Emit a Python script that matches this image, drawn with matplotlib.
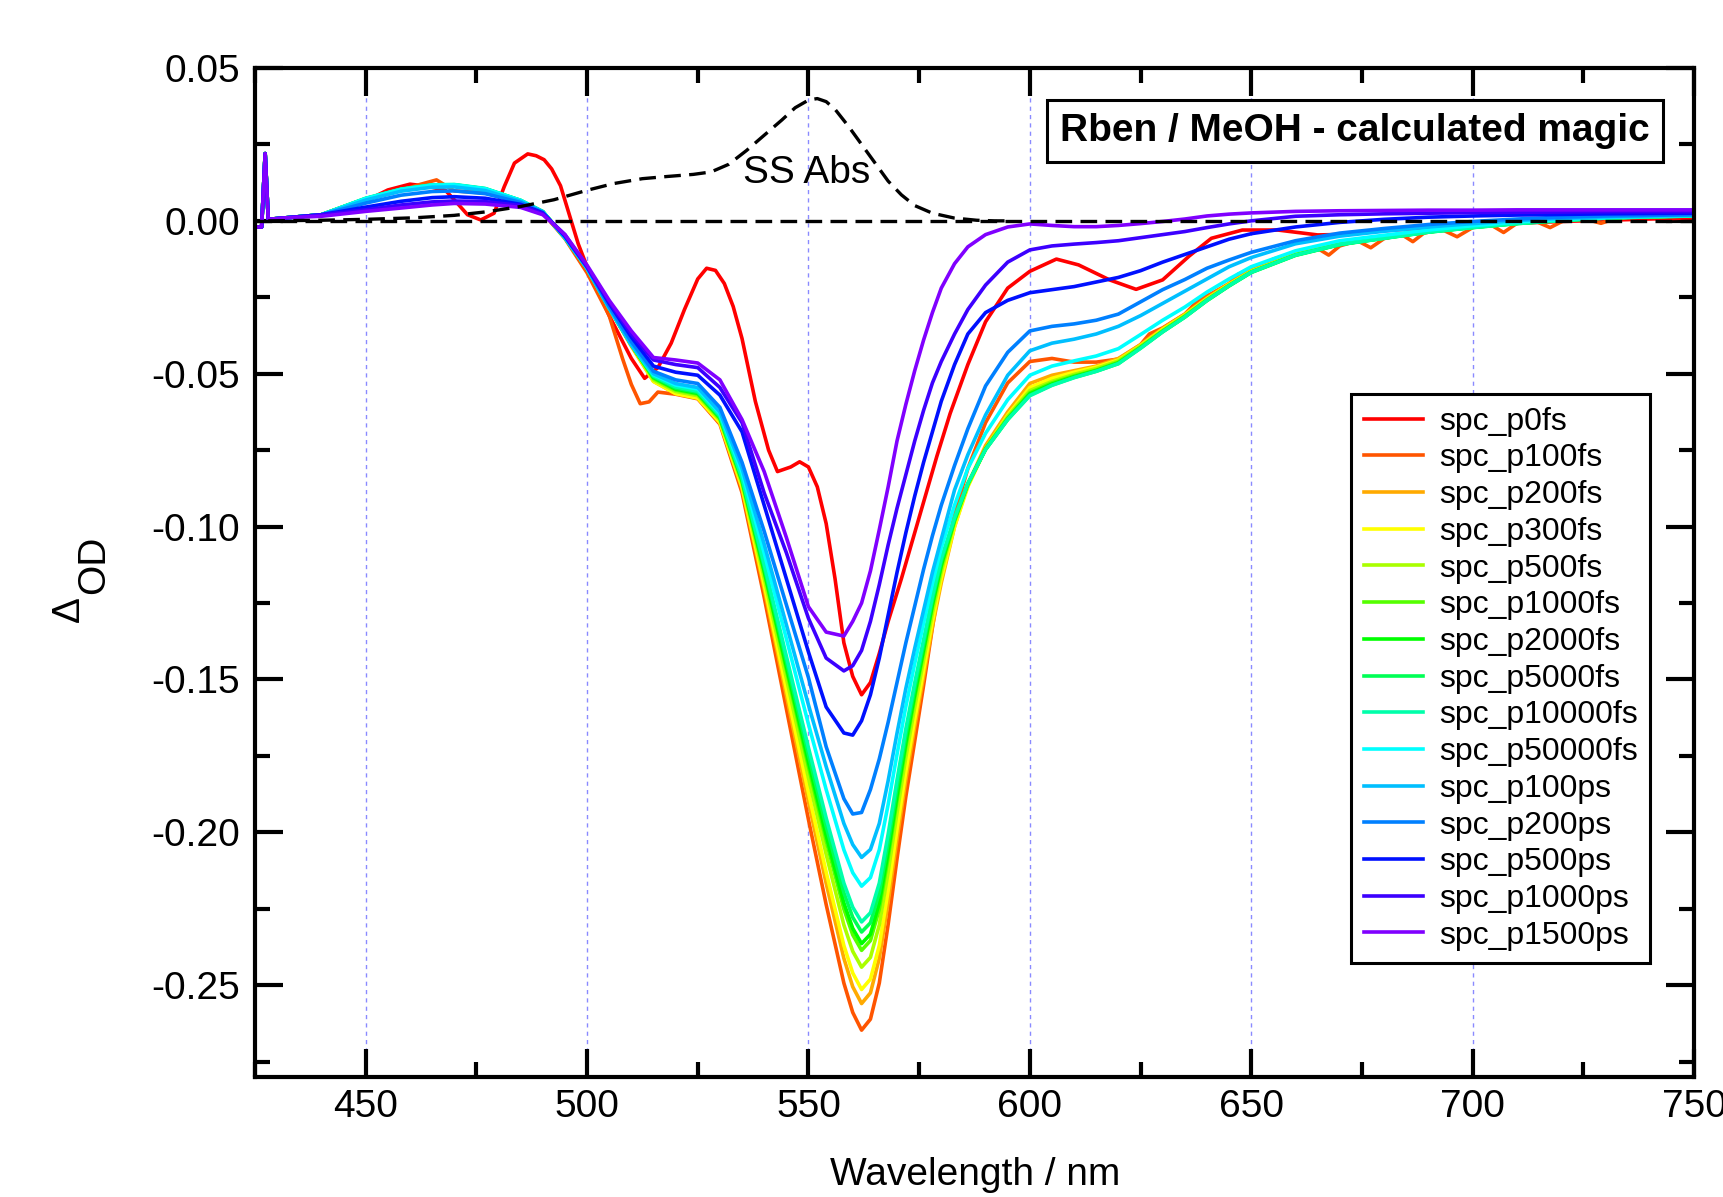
import matplotlib.pyplot as plt
from matplotlib.ticker import MultipleLocator, FormatStrFormatter

plt.rcParams['font.family'] = ['Liberation Sans', 'DejaVu Sans']

# shared wavelength grid (nm)
wl = [425, 426.5, 427.3, 428, 432, 440, 450, 458, 465, 470, 477, 485, 490, 495,
      500, 505, 510, 515, 520, 525, 530, 535, 540, 545, 550, 554, 558, 560, 562,
      564, 566, 568, 570, 572, 574, 576, 578, 580, 583, 586, 590, 595, 600, 605,
      610, 615, 620, 625, 630, 635, 640, 645, 650, 660, 670, 680, 690, 700, 710,
      720, 730, 740, 750]

# p0fs and p100fs have their own grids (extra structure)
wl_p0 = [425, 426.5, 427.3, 428, 432, 440, 450, 455, 460, 464, 468, 470, 473, 476,
         479, 481.3, 483.6, 486.6, 488.5, 490.3, 492, 494, 496, 498, 500, 505, 510,
         513, 516, 519, 522, 525, 527, 529, 531, 533, 535, 538, 541, 543, 546, 548,
         550, 552, 554, 556, 558, 560, 562, 564, 566, 568, 571, 575, 579, 582, 586,
         590, 595, 600, 606, 611, 618, 624, 630, 636, 641, 648, 656, 665, 672, 680,
         690, 700, 720, 750]
p0fs = [-0.002, -0.002, 0.022, 0.0005, 0.001, 0.002, 0.0065, 0.0101, 0.0120, 0.0113,
        0.0100, 0.0069, 0.0020, 0.0003, 0.0025, 0.0112, 0.0189, 0.0219, 0.0213, 0.0200,
        0.0170, 0.0115, 0.0020, -0.0075, -0.0150, -0.0310, -0.0450, -0.0515, -0.0480,
        -0.0400, -0.0290, -0.0190, -0.0155, -0.0162, -0.0205, -0.0280, -0.0385, -0.0590,
        -0.0750, -0.0820, -0.0805, -0.0788, -0.0805, -0.0870, -0.0990, -0.1170, -0.1380,
        -0.1490, -0.1550, -0.1510, -0.1415, -0.1310, -0.1170, -0.0970, -0.0770, -0.0630,
        -0.0470, -0.0330, -0.0220, -0.0165, -0.0125, -0.0144, -0.0193, -0.0224, -0.0193,
        -0.0115, -0.0057, -0.0030, -0.0030, -0.0046, -0.0044, -0.0032, -0.0022, -0.0014,
        -0.0002, 0.0010]

wl_p100 = [425, 426.5, 427.3, 428, 432, 440, 450, 458, 462, 466, 470, 477, 485, 490,
           495, 500, 505, 508, 510, 512, 514, 516, 520, 525, 530, 535, 540, 545, 550,
           554, 558, 560, 562, 564, 566, 568, 570, 572, 574, 576, 578, 580, 583, 586,
           590, 595, 600, 605, 610, 615, 620, 625, 627, 630, 635, 638, 641, 645, 647,
           650, 655, 658, 662, 665, 667.5, 670, 674, 677, 680, 684, 686.5, 689, 693,
           696.5, 700, 704, 707, 710, 714, 717.5, 721, 725, 729, 733, 740, 750]
p100fs = [-0.002, -0.002, 0.022, 0.0005, 0.001, 0.002, 0.0072, 0.0100, 0.0118, 0.0134,
          0.0098, 0.0091, 0.0062, 0.0026, -0.0058, -0.0170, -0.0310, -0.0450, -0.0535,
          -0.0598, -0.0592, -0.0560, -0.0567, -0.0582, -0.0665, -0.0889, -0.1231, -0.1595,
          -0.1958, -0.2236, -0.2493, -0.2589, -0.2647, -0.2611, -0.2493, -0.2301, -0.2087,
          -0.1883, -0.1702, -0.1520, -0.1330, -0.1150, -0.0960, -0.0810, -0.0660, -0.0530,
          -0.0460, -0.0450, -0.0462, -0.0462, -0.0452, -0.0405, -0.0370, -0.0350, -0.0305,
          -0.0260, -0.0238, -0.0205, -0.0175, -0.0162, -0.0125, -0.0112, -0.0095, -0.0090,
          -0.0112, -0.0082, -0.0065, -0.0088, -0.0058, -0.0045, -0.0068, -0.0040, -0.0028,
          -0.0052, -0.0022, -0.0012, -0.0038, -0.0008, 0.0000, -0.0022, 0.0004, 0.0008,
          -0.0008, 0.0011, 0.0014, 0.0016]

p200fs = [-0.002, -0.002, 0.022, 0.0005, 0.001, 0.002,
          0.0072, 0.0101, 0.0115, 0.0116, 0.0103, 0.0065, 0.0029, -0.0055,
          -0.0155, -0.0285, -0.0410, -0.0525, -0.0565, -0.0578, -0.0658,
          -0.0876, -0.1204, -0.1552, -0.1900, -0.2167, -0.2412, -0.2505, -0.2560, -0.2525,
          -0.2412, -0.2228, -0.2023, -0.1829, -0.1655, -0.1491, -0.1327, -0.1184,
          -0.1000, -0.0862, -0.0735, -0.0625, -0.0532, -0.0505, -0.0490, -0.0475, -0.0450,
          -0.0405, -0.0352, -0.0305, -0.0252, -0.0205, -0.0162, -0.0108, -0.0075, -0.0055,
          -0.0035, -0.0020, -0.0007, 0.0003, 0.0010, 0.0014, 0.0017]
p300fs = [-0.002, -0.002, 0.022, 0.0005, 0.001, 0.002,
          0.0072, 0.0102, 0.0116, 0.0117, 0.0104, 0.0066, 0.0030, -0.0055,
          -0.0155, -0.0285, -0.0405, -0.0525, -0.0565, -0.0580, -0.0660,
          -0.0870, -0.1190, -0.1530, -0.1870, -0.2130, -0.2370, -0.2460, -0.2514, -0.2480,
          -0.2370, -0.2190, -0.1990, -0.1800, -0.1630, -0.1470, -0.1310, -0.1170,
          -0.1000, -0.0870, -0.0745, -0.0635, -0.0545, -0.0515, -0.0495, -0.0478, -0.0455,
          -0.0408, -0.0355, -0.0308, -0.0255, -0.0208, -0.0165, -0.0110, -0.0076, -0.0056,
          -0.0036, -0.0021, -0.0008, 0.0002, 0.0010, 0.0014, 0.0017]
p500fs = [-0.002, -0.002, 0.022, 0.0005, 0.001, 0.002,
          0.0072, 0.0102, 0.0116, 0.0117, 0.0104, 0.0066, 0.0030, -0.0055,
          -0.0155, -0.0285, -0.0405, -0.0520, -0.0558, -0.0572, -0.0652,
          -0.0860, -0.1168, -0.1495, -0.1822, -0.2072, -0.2303, -0.2389, -0.2441, -0.2409,
          -0.2303, -0.2130, -0.1937, -0.1754, -0.1591, -0.1437, -0.1283, -0.1148,
          -0.0985, -0.0865, -0.0745, -0.0640, -0.0555, -0.0525, -0.0502, -0.0483, -0.0458,
          -0.0410, -0.0358, -0.0310, -0.0257, -0.0210, -0.0166, -0.0110, -0.0076, -0.0056,
          -0.0036, -0.0021, -0.0008, 0.0002, 0.0010, 0.0014, 0.0017]
p1000fs = [-0.002, -0.002, 0.022, 0.0005, 0.001, 0.002,
           0.0072, 0.0102, 0.0116, 0.0117, 0.0104, 0.0066, 0.0030, -0.0055,
           -0.0155, -0.0285, -0.0405, -0.0515, -0.0553, -0.0567, -0.0647,
           -0.0852, -0.1150, -0.1468, -0.1785, -0.2027, -0.2251, -0.2335, -0.2386, -0.2354,
           -0.2251, -0.2083, -0.1897, -0.1720, -0.1561, -0.1412, -0.1262, -0.1132,
           -0.0980, -0.0860, -0.0745, -0.0645, -0.0562, -0.0530, -0.0507, -0.0488, -0.0462,
           -0.0413, -0.0360, -0.0312, -0.0258, -0.0211, -0.0167, -0.0111, -0.0077, -0.0056,
           -0.0036, -0.0021, -0.0008, 0.0002, 0.0010, 0.0014, 0.0017]
p2000fs = [-0.002, -0.002, 0.022, 0.0005, 0.001, 0.002,
           0.0072, 0.0102, 0.0116, 0.0117, 0.0104, 0.0066, 0.0030, -0.0055,
           -0.0155, -0.0285, -0.0405, -0.0512, -0.0550, -0.0564, -0.0644,
           -0.0849, -0.1144, -0.1457, -0.1770, -0.2010, -0.2231, -0.2314, -0.2364, -0.2333,
           -0.2231, -0.2065, -0.1881, -0.1706, -0.1549, -0.1402, -0.1254, -0.1125,
           -0.0978, -0.0860, -0.0747, -0.0648, -0.0566, -0.0534, -0.0510, -0.0490, -0.0465,
           -0.0415, -0.0362, -0.0314, -0.0260, -0.0212, -0.0168, -0.0112, -0.0077, -0.0056,
           -0.0036, -0.0021, -0.0008, 0.0002, 0.0010, 0.0014, 0.0017]
p5000fs = [-0.002, -0.002, 0.022, 0.0005, 0.001, 0.002,
           0.0073, 0.0103, 0.0117, 0.0118, 0.0105, 0.0067, 0.0030, -0.0055,
           -0.0155, -0.0285, -0.0405, -0.0510, -0.0547, -0.0561, -0.0641,
           -0.0844, -0.1132, -0.1439, -0.1746, -0.1980, -0.2197, -0.2278, -0.2326, -0.2296,
           -0.2197, -0.2034, -0.1854, -0.1682, -0.1529, -0.1385, -0.1240, -0.1114,
           -0.0975, -0.0860, -0.0748, -0.0650, -0.0570, -0.0537, -0.0512, -0.0492, -0.0467,
           -0.0416, -0.0363, -0.0315, -0.0261, -0.0213, -0.0169, -0.0113, -0.0078, -0.0057,
           -0.0037, -0.0022, -0.0009, 0.0001, 0.0009, 0.0013, 0.0016]
p10000fs = [-0.002, -0.002, 0.022, 0.0005, 0.001, 0.002,
            0.0074, 0.0104, 0.0118, 0.0119, 0.0106, 0.0067, 0.0030, -0.0055,
            -0.0155, -0.0285, -0.0405, -0.0507, -0.0543, -0.0557, -0.0637,
            -0.0839, -0.1122, -0.1423, -0.1723, -0.1953, -0.2166, -0.2245, -0.2293, -0.2263,
            -0.2166, -0.2006, -0.1829, -0.1661, -0.1511, -0.1370, -0.1228, -0.1104,
            -0.0970, -0.0858, -0.0748, -0.0650, -0.0572, -0.0538, -0.0513, -0.0492, -0.0467,
            -0.0417, -0.0363, -0.0315, -0.0260, -0.0212, -0.0168, -0.0112, -0.0077, -0.0057,
            -0.0037, -0.0022, -0.0009, 0.0001, 0.0009, 0.0013, 0.0016]
p50000fs = [-0.002, -0.002, 0.022, 0.0005, 0.001, 0.002,
            0.0073, 0.0103, 0.0117, 0.0118, 0.0105, 0.0067, 0.0030, -0.0055,
            -0.0155, -0.0285, -0.0405, -0.0503, -0.0537, -0.0550, -0.0630,
            -0.0822, -0.1086, -0.1366, -0.1646, -0.1860, -0.2057, -0.2132, -0.2176, -0.2148,
            -0.2057, -0.1909, -0.1745, -0.1588, -0.1448, -0.1316, -0.1185, -0.1069,
            -0.0930, -0.0810, -0.0695, -0.0585, -0.0505, -0.0475, -0.0458, -0.0442, -0.0418,
            -0.0372, -0.0325, -0.0282, -0.0233, -0.0190, -0.0150, -0.0098, -0.0065, -0.0047,
            -0.0030, -0.0016, -0.0004, 0.0005, 0.0011, 0.0015, 0.0018]
p100ps = [-0.002, -0.002, 0.022, 0.0005, 0.001, 0.002,
          0.0068, 0.0097, 0.0110, 0.0111, 0.0099, 0.0064, 0.0030, -0.0055,
          -0.0155, -0.0285, -0.0405, -0.0500, -0.0532, -0.0545, -0.0625,
          -0.0809, -0.1057, -0.1320, -0.1583, -0.1785, -0.1971, -0.2040, -0.2082, -0.2056,
          -0.1971, -0.1831, -0.1676, -0.1529, -0.1398, -0.1274, -0.1150, -0.1041,
          -0.0880, -0.0765, -0.0635, -0.0505, -0.0425, -0.0400, -0.0387, -0.0370, -0.0345,
          -0.0310, -0.0270, -0.0230, -0.0190, -0.0150, -0.0120, -0.0075, -0.0050, -0.0034,
          -0.0020, -0.0009, 0.0001, 0.0008, 0.0013, 0.0016, 0.0019]
p200ps = [-0.002, -0.002, 0.022, 0.0005, 0.001, 0.002,
          0.0058, 0.0084, 0.0096, 0.0098, 0.0089, 0.0060, 0.0028, -0.0052,
          -0.0152, -0.0280, -0.0395, -0.0492, -0.0520, -0.0532, -0.0610,
          -0.0790, -0.1015, -0.1255, -0.1494, -0.1720, -0.1890, -0.1940, -0.1935, -0.1860,
          -0.1760, -0.1640, -0.1510, -0.1380, -0.1260, -0.1140, -0.1030, -0.0930,
          -0.0800, -0.0680, -0.0540, -0.0430, -0.0360, -0.0345, -0.0337, -0.0325, -0.0305,
          -0.0265, -0.0225, -0.0192, -0.0155, -0.0128, -0.0103, -0.0065, -0.0040, -0.0025,
          -0.0012, -0.0002, 0.0006, 0.0012, 0.0016, 0.0018, 0.0020]
p500ps = [-0.002, -0.002, 0.022, 0.0005, 0.001, 0.002,
          0.0045, 0.0064, 0.0076, 0.0079, 0.0074, 0.0054, 0.0026, -0.0050,
          -0.0150, -0.0270, -0.0380, -0.0475, -0.0495, -0.0505, -0.0570,
          -0.0690, -0.0930, -0.1170, -0.1410, -0.1590, -0.1675, -0.1682, -0.1635, -0.1550,
          -0.1430, -0.1290, -0.1150, -0.1020, -0.0900, -0.0790, -0.0690, -0.0590,
          -0.0470, -0.0370, -0.0300, -0.0260, -0.0235, -0.0225, -0.0215, -0.0200, -0.0185,
          -0.0163, -0.0135, -0.0110, -0.0085, -0.0060, -0.0042, -0.0020, -0.0005, 0.0005,
          0.0012, 0.0016, 0.0019, 0.0021, 0.0023, 0.0024, 0.0025]
p1000ps = [-0.002, -0.002, 0.022, 0.0005, 0.001, 0.002,
           0.0036, 0.0052, 0.0062, 0.0065, 0.0063, 0.0050, 0.0024, -0.0045,
           -0.0150, -0.0265, -0.0370, -0.0455, -0.0470, -0.0480, -0.0545,
           -0.0660, -0.0890, -0.1085, -0.1300, -0.1430, -0.1472, -0.1455, -0.1405, -0.1310,
           -0.1190, -0.1060, -0.0940, -0.0830, -0.0720, -0.0620, -0.0530, -0.0460,
           -0.0370, -0.0290, -0.0210, -0.0135, -0.0095, -0.0082, -0.0076, -0.0071, -0.0065,
           -0.0055, -0.0045, -0.0035, -0.0022, -0.0010, 0.0000, 0.0015, 0.0020, 0.0023,
           0.0025, 0.0027, 0.0028, 0.0029, 0.0030, 0.0030, 0.0030]
p1500ps = [-0.002, -0.002, 0.022, 0.0005, 0.001, 0.0015,
           0.0031, 0.0042, 0.0052, 0.0057, 0.0055, 0.0044, 0.0020, -0.0045,
           -0.0145, -0.0260, -0.0360, -0.0447, -0.0455, -0.0465, -0.0520,
           -0.0650, -0.0820, -0.1035, -0.1262, -0.1345, -0.1358, -0.1310, -0.1250, -0.1145,
           -0.1010, -0.0870, -0.0720, -0.0600, -0.0490, -0.0390, -0.0300, -0.0220,
           -0.0140, -0.0085, -0.0045, -0.0020, -0.0010, -0.0015, -0.0019, -0.0019, -0.0015,
           -0.0009, -0.0002, 0.0006, 0.0016, 0.0022, 0.0026, 0.0031, 0.0033, 0.0034,
           0.0035, 0.0035, 0.0036, 0.0036, 0.0036, 0.0036, 0.0036]

# steady-state absorption (dashed)
wl_ss = [428, 440, 450, 461, 470, 477.5, 485, 492.5, 500, 506, 512.5, 518, 524, 528,
         532, 536, 540, 544, 547, 550, 552, 554, 556, 559, 562, 565, 568, 571, 574,
         578, 583, 588, 592, 596]
ss_abs = [0.0, 0.0002, 0.0005, 0.0010, 0.0018, 0.0030, 0.0047, 0.0069, 0.0100, 0.0122,
          0.0138, 0.0145, 0.0152, 0.0160, 0.0185, 0.0230, 0.0280, 0.0330, 0.0370, 0.0395,
          0.0400, 0.0390, 0.0365, 0.0310, 0.0250, 0.0190, 0.0130, 0.0085, 0.0050, 0.0025,
          0.0009, 0.0002, 0.0, 0.0]

labels = ['spc_p0fs', 'spc_p100fs', 'spc_p200fs', 'spc_p300fs', 'spc_p500fs',
          'spc_p1000fs', 'spc_p2000fs', 'spc_p5000fs', 'spc_p10000fs', 'spc_p50000fs',
          'spc_p100ps', 'spc_p200ps', 'spc_p500ps', 'spc_p1000ps', 'spc_p1500ps']
colors = ['#ff0000', '#ff5500', '#ffaa00', '#ffff00', '#aaff00', '#55ff00', '#00ff00',
          '#00ff55', '#00ffaa', '#00ffff', '#00bfff', '#0080ff', '#0010ff', '#3c00ff',
          '#8000ff']
xs = [wl_p0, wl_p100] + [wl] * 13
ys = [p0fs, p100fs, p200fs, p300fs, p500fs, p1000fs, p2000fs, p5000fs, p10000fs,
      p50000fs, p100ps, p200ps, p500ps, p1000ps, p1500ps]

fig = plt.figure(figsize=(17.24, 11.97), dpi=100)
ax = fig.add_axes([0.1479, 0.1003, 0.8347, 0.8429])

# vertical grid lines
for g in [450, 500, 550, 600, 650, 700]:
    ax.axvline(g, color='#8a8aff', lw=1.0, ls=(0, (3, 3)), zorder=0)

for x, y, c, lab in zip(xs, ys, colors, labels):
    ax.plot(x, y, color=c, lw=2.6, label=lab, zorder=2, solid_joinstyle='round')

ax.axhline(0, color='black', lw=2.4, ls=(0, (5, 2.5)), zorder=3)
ax.plot(wl_ss, ss_abs, color='black', lw=2.4, ls=(0, (5, 2.5)), zorder=3)
ax.text(549.6, 0.0158, 'SS Abs', fontsize=28, ha='center', va='center', zorder=4)

ax.text(0.7644, 0.9376, 'Rben / MeOH - calculated magic', transform=ax.transAxes,
        fontsize=28, fontweight='bold', ha='center', va='center', zorder=5,
        bbox=dict(boxstyle='square,pad=0.34', fc='white', ec='black', lw=2.2))

ax.set_xlim(425, 750)
ax.set_ylim(-0.28, 0.05)
ax.xaxis.set_major_locator(MultipleLocator(50))
ax.xaxis.set_minor_locator(MultipleLocator(25))
ax.yaxis.set_major_locator(MultipleLocator(0.05))
ax.yaxis.set_minor_locator(MultipleLocator(0.025))
ax.yaxis.set_major_formatter(FormatStrFormatter('%.2f'))
ax.tick_params(which='both', direction='in', top=True, right=True, width=3)
ax.tick_params(which='major', length=20, labelsize=28)
ax.tick_params(which='minor', length=11)
ax.tick_params(axis='x', which='major', pad=9)
ax.tick_params(axis='y', which='major', pad=11)
for s in ax.spines.values():
    s.set_linewidth(3)

leg = ax.legend(loc='upper left', bbox_to_anchor=(0.7617, 0.6769), borderaxespad=0,
                fontsize=23, frameon=True, fancybox=False, edgecolor='black',
                framealpha=1, labelspacing=0.21, handlelength=1.85,
                handletextpad=0.5, borderpad=0.4)
leg.get_frame().set_linewidth(2.2)

# axis labels
fig.text(0.0397, 0.4912, '\u0394', fontsize=28, rotation=90, ha='center', va='center')
fig.text(0.0548, 0.528, 'OD', fontsize=28, rotation=90, ha='center', va='center')
fig.text(0.5658, 0.0184, 'Wavelength / nm', fontsize=28, ha='center', va='center')

fig.savefig('out.png', dpi=100)
